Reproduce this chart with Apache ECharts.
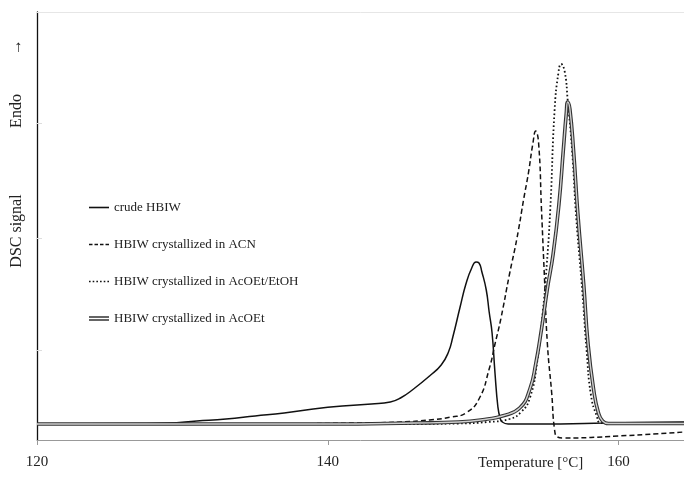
<!DOCTYPE html>
<html>
<head>
<meta charset="utf-8">
<script src="https://cdn.jsdelivr.net/npm/echarts@6/dist/echarts.min.js"></script>
<style>html,body{margin:0;padding:0;background:#fff}#c{width:684px;height:489px}</style>
</head>
<body>
<div id="c"></div>
<script>
// Temperature axis ticks
const xTicks = [120, 140, 160];
const seriesNames = ['crude HBIW', 'HBIW crystallized in ACN', 'HBIW crystallized in AcOEt/EtOH', 'HBIW crystallized in AcOEt'];
// [temperature °C, DSC signal (a.u.)]
const crude = [[120,0],[127,0.005],[129,0.01],[131,0.03],[133,0.05],[135,0.08],[137,0.11],[139,0.15],[141,0.18],[143,0.2],[144.3,0.22],[145,0.26],[145.9,0.35],[147,0.48],[147.8,0.59],[148.3,0.72],[148.6,0.87],[149.1,1.17],[149.5,1.4],[149.9,1.56],[150.2,1.62],[150.4,1.61],[150.6,1.52],[150.9,1.34],[151.1,1.12],[151.3,0.91],[151.5,0.51],[151.7,0.17],[151.85,0.06],[152.0,0.02],[152.4,0.0],[156,0],[159,0.01],[164.5,0.02]];
const acn = [[120,0],[135,0.0],[142,0.01],[145,0.02],[147,0.04],[148.5,0.07],[149.5,0.11],[150.4,0.25],[151.1,0.55],[151.5,0.8],[151.9,1.05],[152.5,1.5],[153.0,1.85],[153.5,2.27],[153.8,2.51],[154.1,2.8],[154.3,2.93],[154.5,2.81],[154.7,2.14],[154.9,1.47],[155.1,0.81],[155.4,0.31],[155.6,-0.06],[155.8,-0.13],[156.2,-0.14],[160,-0.12],[164.5,-0.08]];
const acoetEtoh = [[120,0],[145,0],[149,0.005],[151,0.02],[152.5,0.05],[153.3,0.12],[153.9,0.26],[154.4,0.62],[154.8,1.14],[155.0,1.47],[155.3,2.14],[155.6,3.14],[155.85,3.5],[156.05,3.6],[156.3,3.52],[156.5,3.24],[156.8,2.74],[157.1,2.04],[157.5,1.34],[157.8,0.74],[158.1,0.29],[158.5,0.08],[158.8,0.01],[164.5,0]];
const acoet = [[120,0],[140,0],[146,0.01],[149,0.02],[151,0.05],[152,0.08],[153.2,0.16],[153.9,0.35],[154.3,0.6],[154.7,0.95],[155.1,1.35],[155.5,1.7],[155.9,2.2],[156.2,2.74],[156.4,3.1],[156.5,3.22],[156.65,3.15],[156.9,2.74],[157.2,2.1],[157.6,1.4],[157.9,0.8],[158.3,0.33],[158.6,0.12],[158.9,0.03],[159.3,0.005],[164.5,0.005]];

const FONT = 'Liberation Serif';
const ICON_SOLID = 'path://M0,0H20V1.6H0Z';
const ICON_DASH = 'path://M0,0H3.5V1.6H0ZM5.5,0H9V1.6H5.5ZM11,0H14.5V1.6H11ZM16.5,0H20V1.6H16.5Z';
const ICON_DOT = 'path://M0,0H1.6V1.6H0ZM3.68,0H5.28V1.6H3.68ZM7.36,0H8.96V1.6H7.36ZM11.04,0H12.64V1.6H11.04ZM14.72,0H16.32V1.6H14.72ZM18.4,0H20V1.6H18.4Z';
const ICON_DOUBLE = 'path://M0,0H20V1.3H0ZM0,3H20V4.3H0Z';

const chart = echarts.init(document.getElementById('c'), null, {renderer: 'canvas'});
const common = {type: 'line', showSymbol: false, symbol: 'none', smooth: 0.5, animation: false, silent: true};
chart.setOption({
  animation: false,
  backgroundColor: '#fff',
  grid: {left: 37, right: 0, top: 12, bottom: 49},
  legend: {
    orient: 'vertical', left: 89, top: 201, padding: 0, itemWidth: 20, itemHeight: 14, itemGap: 24,
    textStyle: {fontFamily: FONT, fontSize: 13, color: '#222'},
    data: [
      {name: seriesNames[0], icon: ICON_SOLID, itemStyle: {color: '#111'}},
      {name: seriesNames[1], icon: ICON_DASH, itemStyle: {color: '#111'}},
      {name: seriesNames[2], icon: ICON_DOT, itemStyle: {color: '#111'}},
      {name: seriesNames[3], icon: ICON_DOUBLE, itemStyle: {color: '#333'}}
    ]
  },
  xAxis: [{
    type: 'value', min: 120, max: 164.5, interval: 20,
    axisLine: {show: true, onZero: false, lineStyle: {color: '#999', width: 1}},
    axisTick: {show: true, length: 5, lineStyle: {color: '#999'}},
    axisLabel: {fontFamily: FONT, fontSize: 15, color: '#222', margin: 15, showMaxLabel: false,
      formatter: v => xTicks.includes(v) ? String(v) : ''},
    splitLine: {show: false}
  }, {
    type: 'value', position: 'top', min: 120, max: 164.5,
    axisLine: {show: true, onZero: false, lineStyle: {color: '#e6e6e6'}},
    axisTick: {show: false}, axisLabel: {show: false}, splitLine: {show: false}
  }],
  yAxis: {
    type: 'value', min: -0.16, max: 4.12,
    axisLine: {show: true, onZero: false, lineStyle: {color: '#111', width: 1.3}},
    axisTick: {show: true, inside: true, length: 5, customValues: [0.74, 1.86, 3.01], lineStyle: {color: '#ddd'}},
    axisLabel: {show: false},
    splitLine: {show: false}
  },
  graphic: [
    {type: 'text', x: 17, y: 231, rotation: Math.PI / 2, style: {text: 'DSC signal', fontFamily: FONT, fontSize: 16, fill: '#222', align: 'center', verticalAlign: 'middle'}},
    {type: 'text', x: 17, y: 111, rotation: Math.PI / 2, style: {text: 'Endo', fontFamily: FONT, fontSize: 16, fill: '#222', align: 'center', verticalAlign: 'middle'}},
    {type: 'text', x: 17, y: 47, rotation: Math.PI / 2, style: {text: '→', fontFamily: FONT, fontSize: 16, fill: '#222', align: 'center', verticalAlign: 'middle'}},
    {type: 'text', x: 478, y: 463, style: {text: 'Temperature [°C]', fontFamily: FONT, fontSize: 15, fill: '#222', align: 'left', verticalAlign: 'middle'}}
  ],
  series: [
    Object.assign({}, common, {name: seriesNames[0], data: crude, color: '#111', lineStyle: {color: '#111', width: 1.5, type: 'solid'}}),
    Object.assign({}, common, {name: seriesNames[1], data: acn, color: '#111', lineStyle: {color: '#111', width: 1.5, type: [5, 3]}}),
    Object.assign({}, common, {name: seriesNames[2], data: acoetEtoh, color: '#111', lineStyle: {color: '#111', width: 1.8, type: [1.6, 2.4]}}),
    Object.assign({}, common, {name: seriesNames[3], data: acoet, color: '#333', lineStyle: {color: '#333', width: 3.6, type: 'solid'}}),
    Object.assign({}, common, {name: seriesNames[3] + ' inner', data: acoet, color: '#ccc', lineStyle: {color: '#d0d0d0', width: 1.4, type: 'solid'}})
  ]
});
</script>
</body>
</html>
